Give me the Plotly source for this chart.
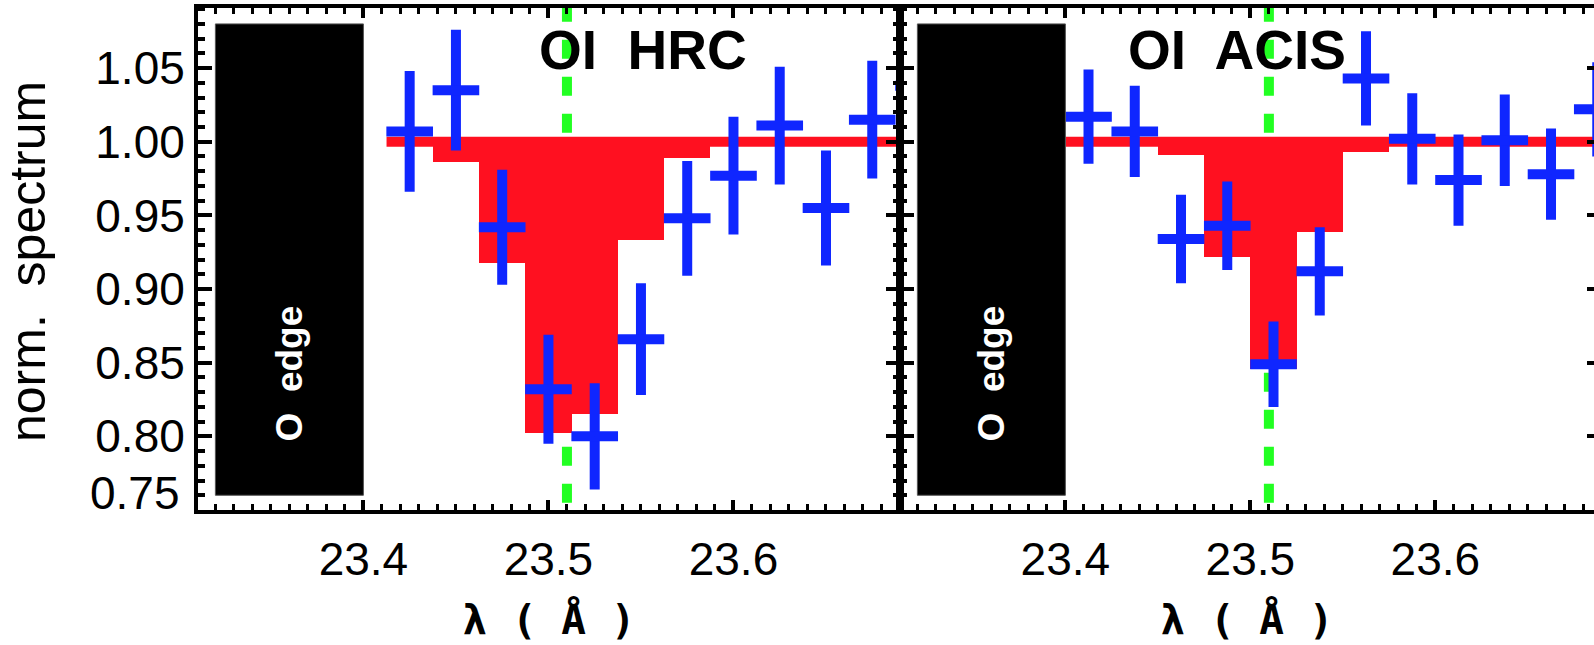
import plotly.graph_objects as go

# ---------------- data ----------------
# HRC (left panel) measured points
wl_hrc = [23.425, 23.450, 23.475, 23.500, 23.525, 23.550, 23.575, 23.600, 23.625, 23.650, 23.675, 23.700]
flux_hrc = [1.007, 1.035, 0.942, 0.832, 0.800, 0.866, 0.948, 0.977, 1.011, 0.955, 1.015, 1.038]
err_hrc = [0.041, 0.041, 0.039, 0.037, 0.036, 0.038, 0.039, 0.040, 0.040, 0.039, 0.040, 0.040]

# ACIS (right panel) measured points
wl_acis = [23.4125, 23.4375, 23.4625, 23.4875, 23.5125, 23.5375, 23.5625, 23.5875, 23.6125, 23.6375, 23.6625, 23.6875]
flux_acis = [1.017, 1.007, 0.934, 0.943, 0.849, 0.912, 1.043, 1.002, 0.974, 1.001, 0.978, 1.022]
err_acis = [0.032, 0.031, 0.030, 0.030, 0.029, 0.030, 0.032, 0.031, 0.031, 0.031, 0.031, 0.032]

bin_halfwidth = 0.0126

# absorption model (step histogram), bin edges and values
model_hrc_edges = [23.4125, 23.4375, 23.4625, 23.4875, 23.5125, 23.5375, 23.5625, 23.5875]
model_hrc = [1.000, 0.986, 0.918, 0.802, 0.815, 0.933, 0.989]
model_acis_edges = [23.400, 23.425, 23.450, 23.475, 23.500, 23.525, 23.550, 23.575]
model_acis = [1.000, 1.000, 0.991, 0.922, 0.846, 0.939, 0.993]
continuum_level = 1.0
continuum_end = 23.72

line_wavelength = 23.51          # OI line (green dashed)
edge_region_x = [23.32, 23.40]   # O edge black box
edge_region_y = [0.76, 1.08]

x_ticks = [23.4, 23.5, 23.6]
x_ticktext = ["23.4", "23.5", "23.6"]
y_ticks = [0.80, 0.85, 0.90, 0.95, 1.00, 1.05]
y_ticktext = ["0.80", "0.85", "0.90", "0.95", "1.00", "1.05"]
y_bottom_label = "0.75"

panel_titles = ["OI  HRC", "OI  ACIS"]

# ---------------- style ----------------
RED = "#FF1020"
BLUE = "#0F26FF"
GREEN = "#22FF22"
W, H = 1594, 645
ML, MR, MT, MB = 198, 0, 8, 135
PW = W - ML - MR
split = 702 / PW

x_range_left = [23.3106, 23.6900]
x_range_right = [23.3106, 23.3106 + (PW - 702) / 1850.0]
y_range = [0.75, 1.0908]

LABEL_FONT = dict(family="Liberation Sans, Arial, sans-serif", size=46, color="black")

fig = go.Figure()


def add_panel(xa, ya, edges, model, wl, flux, err):
    centers = [(a + b) / 2 for a, b in zip(edges[:-1], edges[1:])]
    widths = [b - a for a, b in zip(edges[:-1], edges[1:])]
    fig.add_trace(go.Bar(
        x=centers, y=[continuum_level - m for m in model], base=model, width=widths,
        marker=dict(color=RED, line=dict(width=0)), xaxis=xa, yaxis=ya,
        showlegend=False, hoverinfo="skip"))
    fig.add_trace(go.Scatter(
        x=[edges[0], continuum_end], y=[continuum_level, continuum_level], mode="lines",
        line=dict(color=RED, width=10), xaxis=xa, yaxis=ya,
        showlegend=False, hoverinfo="skip"))
    fig.add_trace(go.Scatter(
        x=wl, y=flux, mode="markers", marker=dict(size=0.1, color=BLUE),
        error_y=dict(type="data", array=err, thickness=10, width=0, color=BLUE),
        error_x=dict(type="data", array=[bin_halfwidth] * len(wl), thickness=10, width=0, color=BLUE),
        xaxis=xa, yaxis=ya, showlegend=False, hoverinfo="skip"))


add_panel("x", "y", model_hrc_edges, model_hrc, wl_hrc, flux_hrc, err_hrc)
add_panel("x2", "y2", model_acis_edges, model_acis, wl_acis, flux_acis, err_acis)
# invisible trace to host the right-edge tick axis
fig.add_trace(go.Scatter(x=[23.5], y=[1.0], mode="markers", marker=dict(size=0.1, opacity=0),
                         xaxis="x2", yaxis="y3", showlegend=False, hoverinfo="skip"))

xcommon = dict(
    showline=True, linewidth=4, linecolor="black", mirror="ticks",
    ticks="inside", ticklen=10, tickwidth=4, tickcolor="black",
    tickmode="array", tickvals=x_ticks, ticktext=x_ticktext, tickfont=LABEL_FONT,
    ticklabelstandoff=6,
    minor=dict(ticks="inside", ticklen=6, tickwidth=3, tickcolor="black", dtick=0.01, tick0=23.4),
    showgrid=False, zeroline=False, automargin=False,
    title=dict(text="λ ( Å )", font=dict(family="DejaVu Sans Mono, monospace", size=41,
                                          color="black", weight="bold"), standoff=22),
)
ycommon = dict(
    range=y_range, showline=True, linewidth=4, linecolor="black",
    ticks="inside", ticklen=14, tickwidth=4, tickcolor="black",
    tickmode="array", tickvals=y_ticks, ticktext=y_ticktext, tickfont=LABEL_FONT,
    minor=dict(ticks="inside", ticklen=7, tickwidth=4, tickcolor="black", dtick=0.01, tick0=0.75),
    showgrid=False, zeroline=False, automargin=False,
)

fig.update_layout(
    width=W, height=H, margin=dict(l=ML, r=MR, t=MT, b=MB),
    paper_bgcolor="white", plot_bgcolor="white", showlegend=False,
    xaxis=dict(xcommon, domain=[0, split], range=x_range_left, anchor="y"),
    xaxis2=dict(xcommon, domain=[split, 1], range=x_range_right, anchor="y2"),
    yaxis=dict(ycommon, domain=[0, 1], anchor="x", mirror="ticks"),
    yaxis2=dict(ycommon, domain=[0, 1], anchor="x2", mirror=False, showticklabels=False),
    yaxis3=dict(range=y_range, overlaying="y2", side="right", anchor="x2",
                showline=False, ticks="inside", ticklen=7, tickwidth=4, tickcolor="black",
                tickmode="array", tickvals=y_ticks, showticklabels=False,
                showgrid=False, zeroline=False, automargin=False),
    bargap=0,
)

shapes = []
annotations = []
for xr, yr, title, tx in (("x", "y", panel_titles[0], 23.551), ("x2", "y2", panel_titles[1], 23.493)):
    shapes.append(dict(type="line", xref=xr, yref=yr, x0=line_wavelength, x1=line_wavelength,
                       y0=y_range[1] + 0.0036, y1=y_range[0], layer="below",
                       line=dict(color=GREEN, width=10, dash="19px,18px")))
    shapes.append(dict(type="rect", xref=xr, yref=yr, x0=edge_region_x[0], x1=edge_region_x[1],
                       y0=edge_region_y[0], y1=edge_region_y[1], layer="above",
                       fillcolor="black", line=dict(color="#555555", width=1)))
    annotations.append(dict(xref=xr, yref=yr, x=tx, y=1.062, text=title, showarrow=False,
                            font=dict(family="Liberation Sans, Arial, sans-serif", size=55,
                                      color="black", weight="bold")))
    annotations.append(dict(xref=xr, yref=yr, x=sum(edge_region_x) / 2, y=0.843, text="O  edge",
                            textangle=-90, showarrow=False,
                            font=dict(family="Liberation Sans, Arial, sans-serif", size=37,
                                      color="white", weight="bold")))

annotations.append(dict(xref="x domain", yref="y", x=-16.0 / 702, y=0.7613, xanchor="right",
                        yanchor="middle", text=y_bottom_label, showarrow=False, font=LABEL_FONT))
annotations.append(dict(xref="paper", yref="paper", x=(28 - ML) / PW, y=(510 - 262) / 502.0,
                        xanchor="center", yanchor="middle", text="norm.  spectrum", textangle=-90,
                        showarrow=False,
                        font=dict(family="Liberation Sans, Arial, sans-serif", size=50, color="black")))

fig.update_layout(shapes=shapes, annotations=annotations)
fig.write_html("out.html")
